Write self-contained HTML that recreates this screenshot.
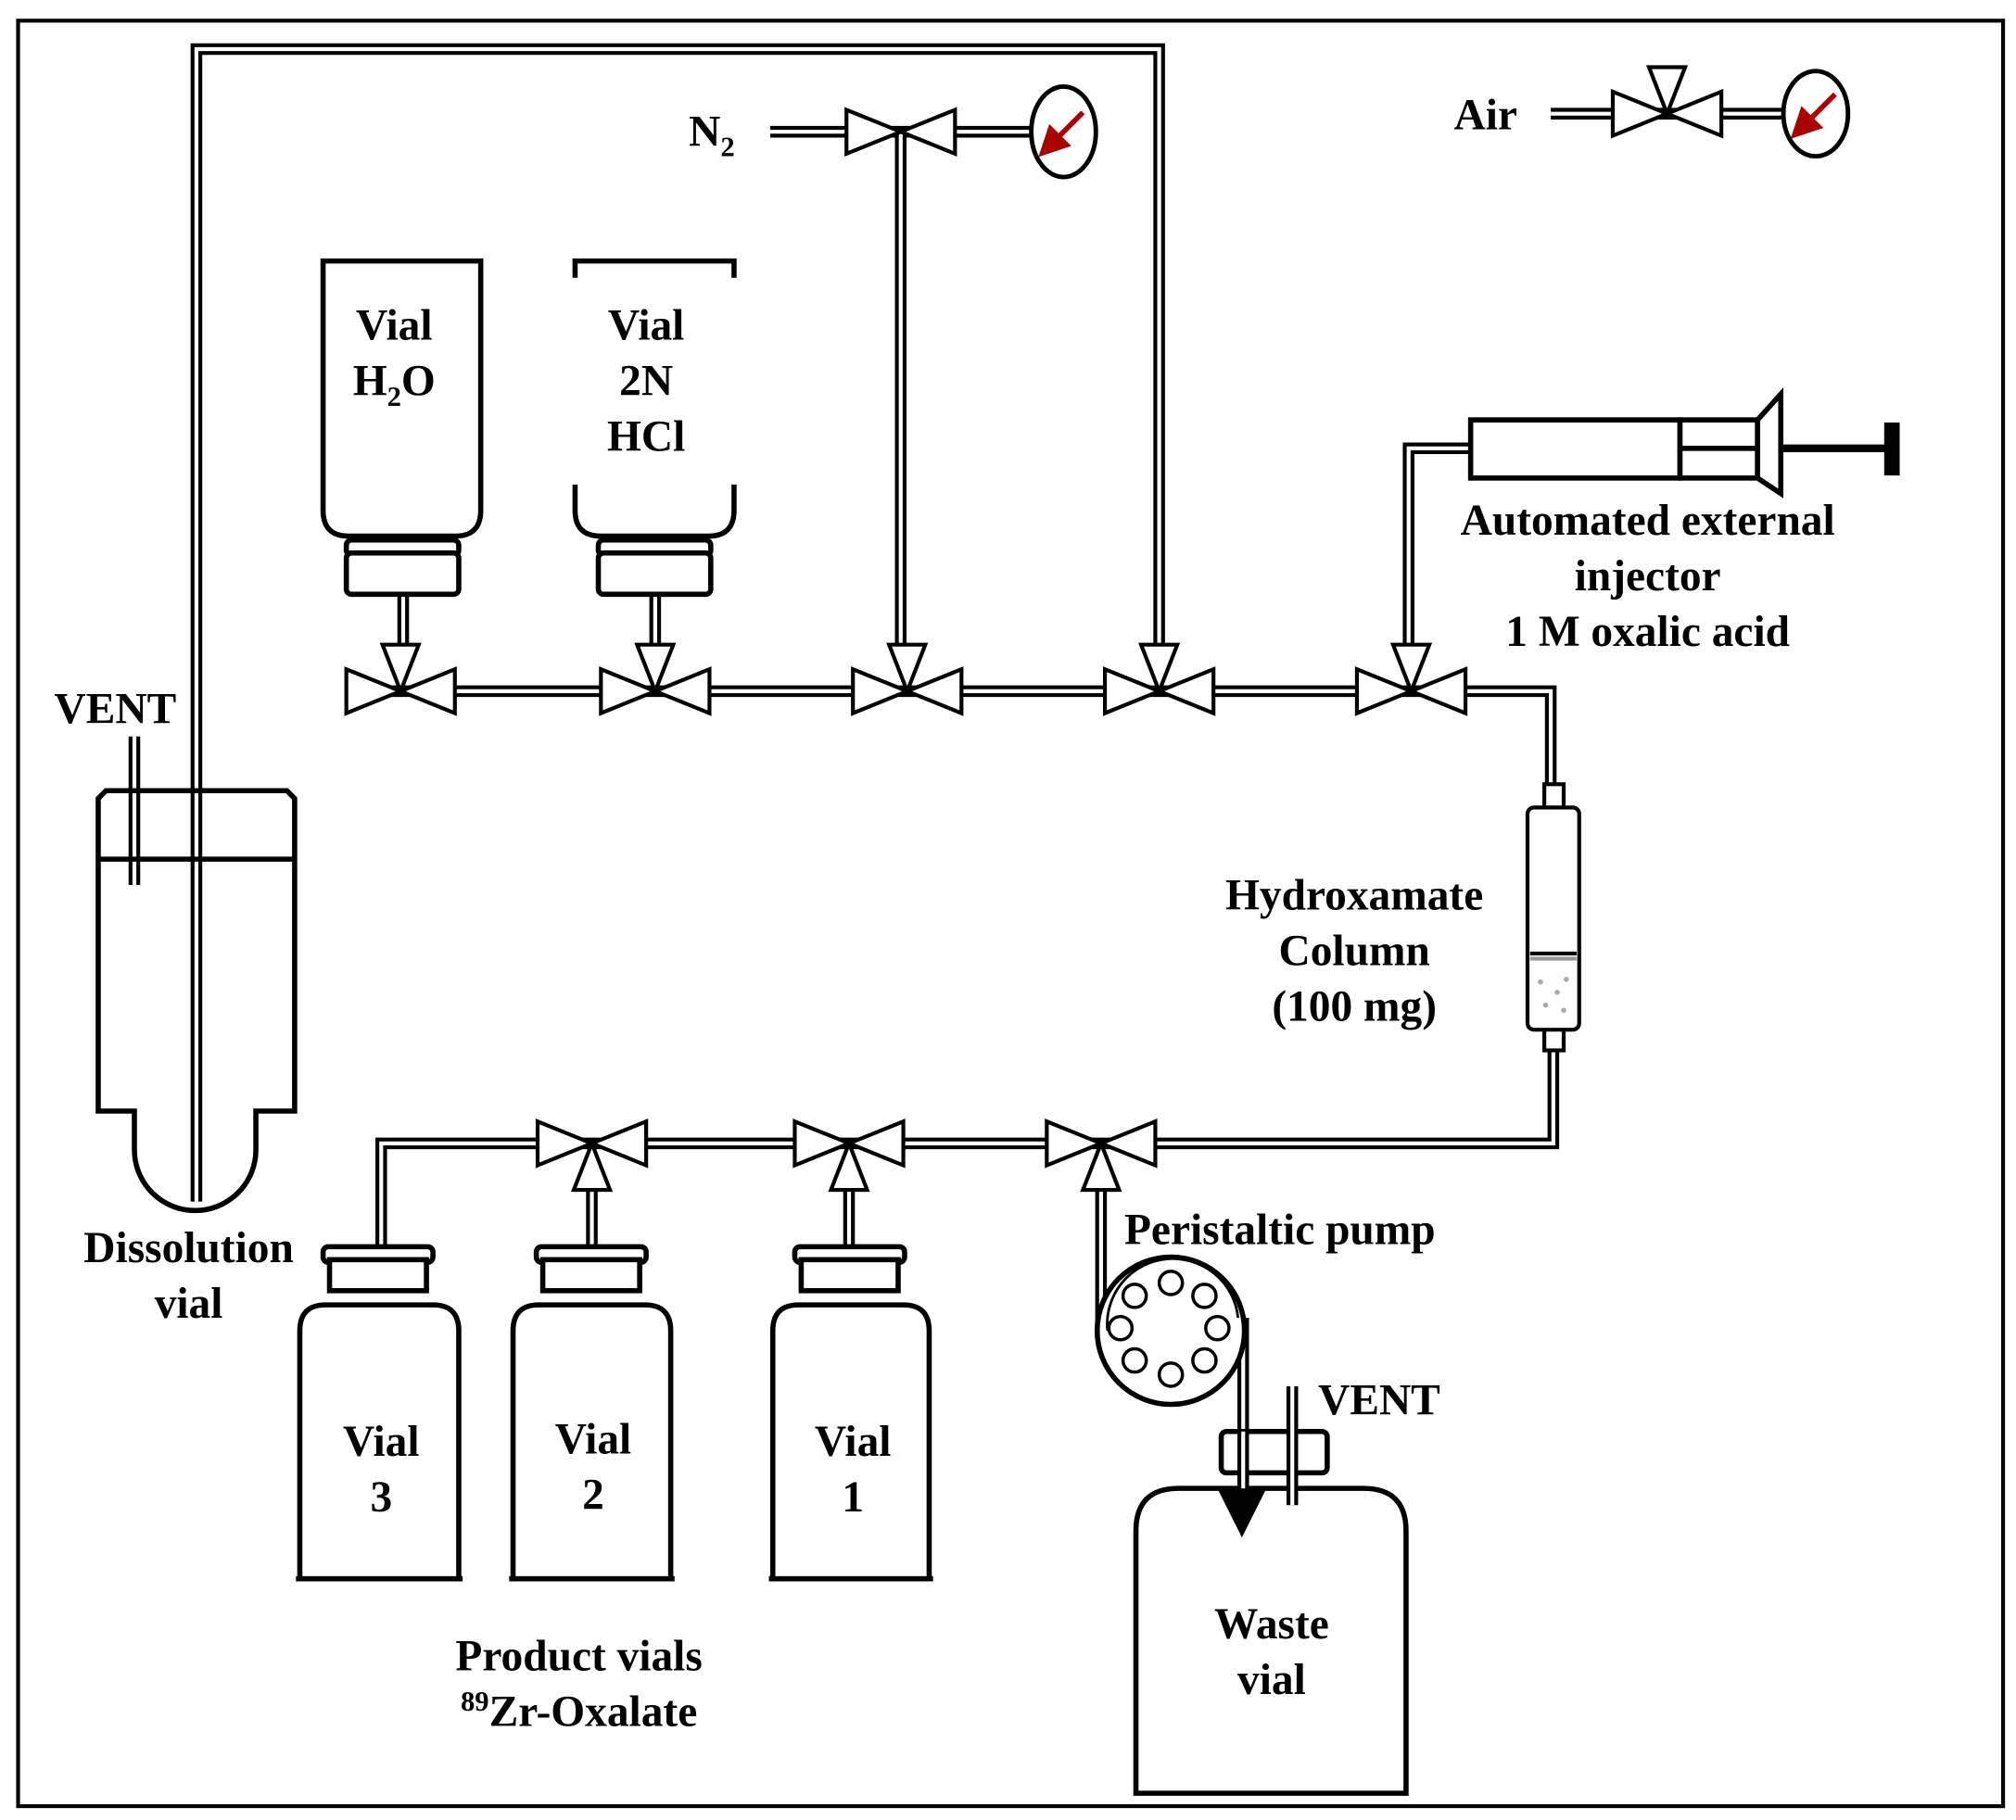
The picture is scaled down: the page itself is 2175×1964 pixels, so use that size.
<!DOCTYPE html>
<html><head><meta charset="utf-8"><style>
html,body{margin:0;padding:0;background:#fff}
svg{display:block}
text{font-family:"Liberation Serif",serif;font-weight:bold;font-size:34px;fill:#000}
</style></head><body>
<svg width="2175" height="1964" viewBox="0 0 1560 1408.7" preserveAspectRatio="none" xmlns="http://www.w3.org/2000/svg">
<defs>
<g id="pipes" fill="none">
<path d="M152,930 V38 H897 V500"/>
<path d="M596,102 H800"/>
<path d="M697,102 V500"/>
<path d="M1200,88 H1385"/>
<path d="M270,535 H1200 V610"/>
<path d="M1138,347 H1090 V500"/>
<path d="M1202,812 V885 H295 V966"/>
<path d="M312,460 V500 M507,460 V500"/>
<path d="M458,966 V920 M657,966 V920 M852,920 V1030"/>
<path d="M1000,1073 V1162"/>
<path d="M104,570 V685"/>
<path d="M962,1020 V1150"/>
</g>
<g id="valve" fill="#fff" stroke="#000" stroke-width="3" stroke-linejoin="miter">
<polygon points="-42,-17 0,0 -42,17"/><polygon points="42,-17 0,0 42,17"/>
</g>
<polygon id="dn" points="-14,-36 14,-36 0,0" fill="#fff" stroke="#000" stroke-width="3"/>
<polygon id="up" points="-14,36 14,36 0,0" fill="#fff" stroke="#000" stroke-width="3"/>
<marker id="ah" markerWidth="6" markerHeight="6" refX="3" refY="3" orient="auto"><path d="M0,0 L6,3 L0,6z" fill="#a00"/></marker>
</defs>
<rect x="14" y="16" width="1536" height="1382" fill="#fff" stroke="#000" stroke-width="3"/>
<g stroke="#000" stroke-width="9"><use href="#pipes"/></g>
<g stroke="#fff" stroke-width="3"><use href="#pipes"/></g>
<!-- valves -->
<use href="#valve" x="697" y="102"/>
<use href="#valve" x="1290" y="88"/><use href="#up" x="1290" y="88" transform="translate(1290,88) scale(1,-1) translate(-1290,-88)"/>
<g><use href="#valve" x="310" y="535"/><use href="#dn" x="310" y="535"/>
<use href="#valve" x="507" y="535"/><use href="#dn" x="507" y="535"/>
<use href="#valve" x="702" y="535"/><use href="#dn" x="702" y="535"/>
<use href="#valve" x="897" y="535"/><use href="#dn" x="897" y="535"/>
<use href="#valve" x="1092" y="535"/><use href="#dn" x="1092" y="535"/></g>
<use href="#valve" x="458" y="885"/><use href="#up" x="458" y="885"/>
<use href="#valve" x="657" y="885"/><use href="#up" x="657" y="885"/>
<use href="#valve" x="852" y="885"/><use href="#up" x="852" y="885"/>
<!-- gauges -->
<g fill="#fff" stroke="#000" stroke-width="3.5">
<ellipse cx="823" cy="102" rx="25" ry="35"/><ellipse cx="1405" cy="88" rx="25" ry="33"/></g>
<g stroke="#a00" stroke-width="4"><line x1="838" y1="87" x2="812" y2="113" marker-end="url(#ah)"/><line x1="1420" y1="73" x2="1394" y2="99" marker-end="url(#ah)"/></g>
<!-- top vials -->
<g fill="#fff" stroke="#000" stroke-width="4">
<path d="M250,202 H372 V395 Q372,415 352,415 H270 Q250,415 250,395 Z"/>
<rect x="268" y="418" width="87" height="12" rx="4"/><rect x="268" y="428" width="87" height="32" rx="4"/>
<rect x="463" y="418" width="87" height="12" rx="4"/><rect x="463" y="428" width="87" height="32" rx="4"/>
</g>
<path d="M445,215 V202 H568 V215 M445,375 V395 Q445,415 465,415 H548 Q568,415 568,395 V375" fill="none" stroke="#000" stroke-width="4"/>
<!-- syringe -->
<g fill="#fff" stroke="#000" stroke-width="4">
<rect x="1138" y="325" width="162" height="45"/>
<rect x="1300" y="325" width="60" height="45"/>
<line x1="1300" y1="347" x2="1360" y2="347"/>
<polygon points="1360,325 1378,305 1378,382 1360,370"/>
</g>
<line x1="1378" y1="347" x2="1460" y2="347" stroke="#000" stroke-width="6"/>
<rect x="1458" y="327" width="12" height="41" fill="#000"/>
<!-- column -->
<g fill="#fff" stroke="#000" stroke-width="3">
<rect x="1195" y="607" width="15" height="20"/><rect x="1195" y="793" width="15" height="20"/>
<rect x="1182" y="625" width="40" height="172" rx="5"/>
<line x1="1184" y1="738" x2="1220" y2="738"/><line x1="1184" y1="742" x2="1220" y2="742" stroke="#999"/>
</g>
<g fill="#aaa"><circle cx="1192" cy="760" r="2"/><circle cx="1205" cy="768" r="2"/><circle cx="1212" cy="758" r="2"/><circle cx="1196" cy="778" r="2"/><circle cx="1210" cy="782" r="2"/></g>
<!-- dissolution vial -->
<path d="M76,860 V618 L82,612 H222 L228,618 V860 H198 V890 A47,47 0 0 1 104,890 V860 Z" fill="none" stroke="#000" stroke-width="4"/>
<line x1="76" y1="665" x2="228" y2="665" stroke="#000" stroke-width="4"/>
<!-- product vials -->
<g fill="#fff" stroke="#000" stroke-width="4">
<path d="M232,1222 V1030 Q232,1010 252,1010 H335 Q355,1010 355,1030 V1222 M229,1222 H358"/>
<rect x="250" y="965" width="85" height="12" rx="4"/><rect x="255" y="975" width="75" height="24"/>
<path d="M397,1222 V1030 Q397,1010 417,1010 H499 Q519,1010 519,1030 V1222 M394,1222 H522"/>
<rect x="415" y="965" width="85" height="12" rx="4"/><rect x="420" y="975" width="75" height="24"/>
<path d="M598,1222 V1030 Q598,1010 618,1010 H699 Q719,1010 719,1030 V1222 M595,1222 H722"/>
<rect x="615" y="965" width="85" height="12" rx="4"/><rect x="620" y="975" width="75" height="24"/>
</g>
<!-- pump -->
<circle cx="906" cy="1030" r="57" fill="#fff" stroke="#000" stroke-width="4"/>
<g fill="#fff" stroke="#000" stroke-width="2.5">
<circle cx="906" cy="993" r="9"/><circle cx="932" cy="1003" r="9"/><circle cx="942" cy="1028" r="9"/><circle cx="932" cy="1053" r="9"/>
<circle cx="906" cy="1064" r="9"/><circle cx="878" cy="1053" r="9"/><circle cx="867" cy="1028" r="9"/><circle cx="878" cy="1003" r="9"/></g>
<path d="M848,1030 V1030 M857,1030 A50,50 0 0 1 958,1020" fill="none" stroke="#000" stroke-width="2"/>
<!-- waste -->
<g fill="#fff" stroke="#000" stroke-width="4">
<path d="M879,1388 V1185 Q879,1152 912,1152 H1055 Q1088,1152 1088,1185 V1388 Z"/>
<rect x="945" y="1108" width="82" height="32" rx="4"/>
</g>
<g stroke="#000" stroke-width="9"><path d="M962,1108 V1160 M1000,1073 V1165"/></g>
<g stroke="#fff" stroke-width="3"><path d="M962,1108 V1160 M1000,1073 V1165"/></g>
<polygon points="942,1152 980,1152 961,1190" fill="#000"/>
<!-- text -->
<text x="533" y="113">N<tspan font-size="22" dy="8">2</tspan></text>
<text x="1125" y="100">Air</text>
<g text-anchor="middle">
<text x="305" y="263">Vial</text><text x="305" y="306">H<tspan font-size="22" dy="8">2</tspan><tspan dy="-8">O</tspan></text>
<text x="500" y="263">Vial</text><text x="500" y="306">2N</text><text x="500" y="349">HCl</text>
<text x="1275" y="414">Automated external</text><text x="1275" y="457">injector</text><text x="1275" y="500">1 M oxalic acid</text>
<text x="1048" y="704">Hydroxamate</text><text x="1048" y="747">Column</text><text x="1048" y="790">(100 mg)</text>
<text x="146" y="977">Dissolution</text><text x="146" y="1020">vial</text>
<text x="295" y="1127">Vial</text><text x="295" y="1170">3</text>
<text x="459" y="1125">Vial</text><text x="459" y="1168">2</text>
<text x="660" y="1127">Vial</text><text x="660" y="1170">1</text>
<text x="984" y="1268">Waste</text><text x="984" y="1311">vial</text>
<text x="448" y="1293">Product vials</text>
<text x="448" y="1336"><tspan font-size="22" dy="-12">89</tspan><tspan dy="12">Zr-Oxalate</tspan></text>
</g>
<text x="42" y="560">VENT</text>
<text x="870" y="963">Peristaltic pump</text>
<text x="1020" y="1095">VENT</text>
</svg>
</body></html>
